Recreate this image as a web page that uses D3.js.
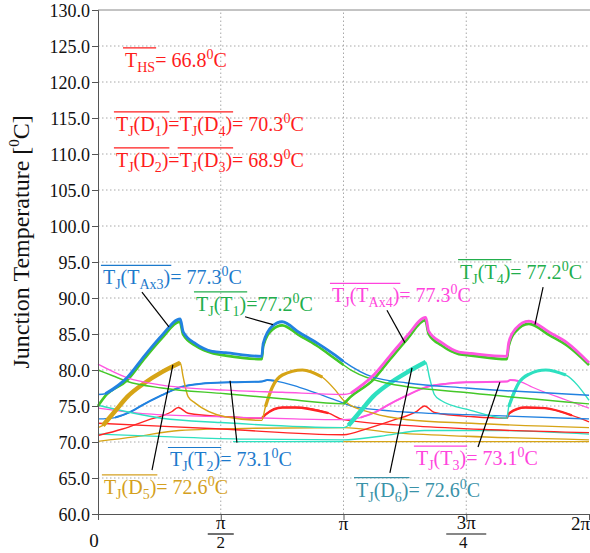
<!DOCTYPE html>
<html>
<head>
<meta charset="utf-8">
<script src="https://cdn.jsdelivr.net/npm/d3@7"></script>
<style>
  body { margin: 0; background: #fff; }
</style>
</head>
<body>
<svg id="chart" width="590" height="553"></svg>
<script>
// x values are in units of pi (0..2), y values in deg C
const yTicks = [60, 65, 70, 75, 80, 85, 90, 95, 100, 105, 110, 115, 120, 125, 130];
const xTicks = [0, 0.5, 1, 1.5, 2];
const xTickNum = ["0", "π", "π", "3π", "2π"];
const xTickDen = [null, "2", null, "4", null];

const t1 = [[0,75.0],[0.03,76.4],[0.12,78.6],[0.19,81.6],[0.26,84.4],[0.333,86.7],[0.347,84.9],[0.40,83.3],[0.47,82.3],[0.52,82.0],[0.667,81.5],[0.673,83.3],[0.71,85.6],[0.75,86.2],[0.82,84.8],[0.89,83.4],[0.96,81.7],[1.0,80.7],[1.04,79.8],[1.16,78.3],[1.52,76.8],[2.0,75.3]];
const tAx3 = [[0,76.6],[0.03,76.7],[0.12,79.0],[0.19,82.0],[0.26,84.8],[0.335,87.1],[0.347,85.3],[0.40,83.6],[0.465,82.6],[0.52,82.4],[0.667,81.9],[0.673,83.7],[0.71,86.1],[0.75,86.7],[0.82,85.2],[0.89,83.8],[0.96,82.2],[1.0,81.2],[1.12,79.0],[1.26,78.2],[1.5,77.5],[2.0,76.5]];
const t4 = [[0,80.0],[0.06,79.2],[0.12,78.4],[0.26,77.5],[0.52,76.7],[0.75,76.0],[1.0,75.3],[1.03,76.3],[1.12,78.6],[1.19,81.5],[1.26,84.3],[1.333,86.9],[1.347,85.0],[1.40,83.4],[1.47,82.2],[1.52,82.0],[1.665,81.5],[1.673,83.3],[1.70,85.3],[1.755,86.4],[1.84,84.8],[1.91,83.4],[2.0,80.7]];
const tAx4 = [[0,80.8],[0.12,78.9],[0.26,77.9],[0.52,77.2],[0.75,76.9],[1.0,76.6],[1.03,76.8],[1.12,79.2],[1.19,82.0],[1.26,84.8],[1.335,87.3],[1.347,85.4],[1.40,83.8],[1.47,82.5],[1.52,82.3],[1.665,81.9],[1.673,83.8],[1.70,85.7],[1.755,86.8],[1.84,85.2],[1.91,83.8],[2.0,81.0]];
const t2 = [[0,73.2],[0.07,73.4],[0.12,74.0],[0.19,75.3],[0.26,76.5],[0.335,77.6],[0.42,78.1],[0.54,78.3],[0.667,78.4],[0.69,78.6],[0.72,78.5],[0.82,77.6],[0.89,76.8],[1.0,75.4],[1.04,74.9],[1.2,74.3],[1.5,73.8],[2.0,73.2]];
const t3 = [[0,74.7],[0.2,73.9],[0.5,73.5],[0.8,73.2],[1.0,73.1],[1.07,73.4],[1.12,74.0],[1.19,75.3],[1.26,76.5],[1.335,77.6],[1.42,78.1],[1.5,78.3],[1.665,78.4],[1.68,78.6],[1.72,78.4],[1.77,77.6],[1.91,75.8],[2.0,74.7]];
const d5 = [[0,72.0],[0.02,72.3],[0.07,74.3],[0.12,76.3],[0.19,78.2],[0.26,79.7],[0.335,81.0],[0.347,79.0],[0.367,76.3],[0.396,75.4],[0.518,73.5],[0.667,73.0],[0.682,74.9],[0.71,77.6],[0.751,79.3],[0.833,80.0],[0.914,79.0],[0.967,77.2],[1.0,75.8],[1.12,74.0],[1.26,73.1],[1.52,72.6],[2.0,72.0]];
const d6 = [[0,75.1],[0.26,73.3],[0.5,72.7],[1.0,72.0],[1.02,72.3],[1.07,74.3],[1.12,76.3],[1.19,78.2],[1.26,79.7],[1.335,81.1],[1.35,79.0],[1.37,76.6],[1.396,75.8],[1.518,74.4],[1.665,73.3],[1.673,74.9],[1.714,78.2],[1.755,79.4],[1.824,80.0],[1.906,79.3],[2.0,75.8]];
const redA = [[0,70.9],[0.1,71.8],[0.2,73.0],[0.3,74.2],[0.327,74.8],[0.367,74.0],[0.53,73.5],[0.667,73.3],[0.682,73.8],[0.751,74.8],[0.804,74.8],[0.939,74.0],[1.0,73.1],[1.3,72.2],[1.6,71.7],[2.0,71.3]];
const redB = [[0,72.6],[0.5,71.8],[1.0,71.0],[1.1,71.9],[1.2,73.0],[1.3,74.3],[1.33,75.0],[1.37,74.1],[1.53,73.5],[1.665,73.3],[1.675,74.0],[1.74,74.8],[1.82,74.7],[1.93,73.7],[2.0,72.8]];
const gold2 = [[0,70.1],[0.15,70.7],[0.33,71.6],[0.6,71.9],[1.0,72.0],[1.2,71.3],[1.5,70.8],[2.0,70.3]];
const teal2 = [[0,71.1],[0.3,70.7],[0.6,70.4],[1.0,70.3],[1.15,70.8],[1.33,71.6],[1.6,71.6],[2.0,71.1]];
const teal70 = [[0.55,70.05],[1.0,70.05]];
const gold70 = [[1.0,70.05],[2.0,70.05]];

// label texts: [text, kind, overline group]
const lblHS = [["T","n",1],["HS","sub",1],["= 66.8"],["0","sup"],["C"]];
const lblD14 = [["T","n",1],["J","sub",1],["(D","n",1],["1","sub",1],[")","n",1],["="],["T","n",2],["J","sub",2],["(D","n",2],["4","sub",2],[")","n",2],["= 70.3"],["0","sup"],["C"]];
const lblD23 = [["T","n",1],["J","sub",1],["(D","n",1],["2","sub",1],[")","n",1],["="],["T","n",2],["J","sub",2],["(D","n",2],["3","sub",2],[")","n",2],["= 68.9"],["0","sup"],["C"]];
const lblAx3 = [["T","n",1],["J","sub",1],["(T","n",1],["Ax3","sub",1],[")","n",1],["= 77.3"],["0","sup"],["C"]];
const lblT1 = [["T","n",1],["J","sub",1],["(T","n",1],["1","sub",1],[")","n",1],["=77.2"],["0","sup"],["C"]];
const lblAx4 = [["T","n",1],["J","sub",1],["(T","n",1],["Ax4","sub",1],[")","n",1],["= 77.3"],["0","sup"],["C"]];
const lblT4 = [["T","n",1],["J","sub",1],["(T","n",1],["4","sub",1],[")","n",1],["= 77.2"],["0","sup"],["C"]];
const lblT2 = [["T","n",1],["J","sub",1],["(T","n",1],["2","sub",1],[")","n",1],["= 73.1"],["0","sup"],["C"]];
const lblD5 = [["T","n",1],["J","sub",1],["(D","n",1],["5","sub",1],[")","n",1],["= 72.6"],["0","sup"],["C"]];
const lblT3 = [["T","n",1],["J","sub",1],["(T","n",1],["3","sub",1],[")","n",1],["= 73.1"],["0","sup"],["C"]];
const lblD6 = [["T","n",1],["J","sub",1],["(D","n",1],["6","sub",1],[")","n",1],["= 72.6"],["0","sup"],["C"]];

const C = {
  blue: "#2282e0", green: "#44c828", magenta: "#ff55e0", gold: "#d6a416",
  teal: "#2ee0c0", red: "#ff2424",
  tBlue: "#1c7acc", tGreen: "#22ae4c", tMag: "#ff44dd", tGold: "#d4a020", tTeal: "#3a92a8", tRed: "#ff1c1c"
};
const FONT = "'Liberation Serif', Tinos, 'Times New Roman', 'Noto Serif', 'DejaVu Serif', serif";

const width = 590, height = 553;
const margin = { top: 10, right: 1, bottom: 39, left: 98 };

const x = d3.scaleLinear().domain([0, 2]).range([margin.left, width - margin.right]);
const y = d3.scaleLinear().domain([60, 130]).range([height - margin.bottom, margin.top]);

const svg = d3.select("#chart").attr("font-family", FONT);

// grid
svg.append("g")
  .selectAll("line")
  .data(yTicks.slice(1, -1))
  .join("line")
  .attr("x1", x(0)).attr("x2", x(2))
  .attr("y1", d => y(d)).attr("y2", d => y(d))
  .attr("stroke", "#a8a8a8").attr("stroke-dasharray", "1.5,2.5");
svg.append("g")
  .selectAll("line")
  .data(xTicks.slice(1, -1))
  .join("line")
  .attr("x1", d => x(d)).attr("x2", d => x(d))
  .attr("y1", y(60)).attr("y2", y(130))
  .attr("stroke", "#a8a8a8").attr("stroke-dasharray", "1.5,2.5");

// top frame line
svg.append("line")
  .attr("x1", x(0)).attr("x2", width).attr("y1", y(130)).attr("y2", y(130))
  .attr("stroke", "#888");

// curves
const line = d3.line().x(d => x(d[0])).y(d => y(d[1])).curve(d3.curveMonotoneX);
const draw = (data, color, w) => svg.append("path").datum(data)
  .attr("d", line).attr("fill", "none").attr("stroke", color).attr("stroke-width", w)
  .attr("stroke-linejoin", "round");

draw(teal70, C.teal, 1.4);
draw(gold70, C.gold, 1.4);
draw(gold2, C.gold, 1.3);
draw(teal2, C.teal, 1.3);
draw(redB, C.red, 1.4);
draw(redA, C.red, 1.4);
draw(redA.filter(d => d[0] >= 0.66 && d[0] <= 0.95), C.red, 2.4);
draw(redB.filter(d => d[0] >= 1.66 && d[0] <= 1.95), C.red, 2.4);
draw(t3, C.magenta, 1.3);
draw(t2, C.blue, 1.3);
draw(t3.filter(d => d[0] >= 1.07 && d[0] <= 1.72), C.magenta, 2);
draw(t2.filter(d => d[0] >= 0.07 && d[0] <= 0.72), C.blue, 2);
draw(d6, C.teal, 1.4);
draw(d5, C.gold, 1.4);
draw(d6.filter(d => d[0] >= 1.02 && d[0] <= 1.335), C.teal, 4.5);
draw(d5.filter(d => d[0] >= 0.02 && d[0] <= 0.335), C.gold, 4.5);
draw(d6.filter(d => d[0] >= 1.673 && d[0] <= 1.906), C.teal, 3.2);
draw(d5.filter(d => d[0] >= 0.682 && d[0] <= 0.914), C.gold, 3.2);
draw(t4, C.green, 1.4);
draw(t1, C.green, 1.4);
draw(t4.filter(d => d[0] >= 1.0), C.green, 2.6);
draw(t1.filter(d => d[0] <= 1.0), C.green, 2.6);
draw(tAx4, C.magenta, 1.4);
draw(tAx3, C.blue, 1.4);
draw(tAx4.filter(d => d[0] >= 1.03), C.magenta, 2.8);
draw(tAx3.filter(d => d[0] >= 0.03 && d[0] <= 1.0), C.blue, 2.8);

// axes
const yAxis = d3.axisLeft(y).tickValues(yTicks).tickFormat(d3.format(".1f")).tickSizeOuter(0).tickSize(6).tickPadding(2);
svg.append("g")
  .attr("transform", `translate(${x(0)},0)`)
  .call(yAxis)
  .attr("font-family", FONT)
  .call(g => g.select(".domain").attr("stroke", "#555"))
  .call(g => g.selectAll(".tick line").attr("stroke", "#555"))
  .call(g => g.selectAll("text").attr("fill", "#111").attr("font-size", 18).attr("dy", "0.34em"));

const xAxis = d3.axisBottom(x).tickValues(xTicks).tickFormat("").tickSizeOuter(0).tickSize(6);
svg.append("g")
  .attr("transform", `translate(0,${y(60)})`)
  .call(xAxis)
  .call(g => g.select(".domain").attr("stroke", "#555"))
  .call(g => g.selectAll(".tick line").attr("stroke", "#555"));

// x tick labels (fractions)
const xl = svg.append("g").attr("fill", "#111").attr("font-size", 19);
xTicks.forEach((t, i) => {
  const cx = x(t);
  if (xTickDen[i]) {
    xl.append("text").attr("x", cx).attr("y", 529).attr("text-anchor", "middle").text(xTickNum[i]);
    const half = xTickNum[i].length > 1 ? 20 : 13;
    xl.append("line").attr("x1", cx - half).attr("x2", cx + half).attr("y1", 534).attr("y2", 534)
      .attr("stroke", "#111").attr("stroke-width", 1.2);
    xl.append("text").attr("x", cx - (xTickNum[i].length > 1 ? 3 : 0)).attr("y", 548).attr("font-size", 17)
      .attr("text-anchor", "middle").text(xTickDen[i]);
  } else if (t === 0) {
    xl.append("text").attr("x", cx - 4).attr("y", 547).attr("text-anchor", "middle").text(xTickNum[i]);
  } else if (t === 2) {
    xl.append("text").attr("x", width).attr("y", 530).attr("text-anchor", "end").text(xTickNum[i]);
  } else {
    xl.append("text").attr("x", cx).attr("y", 530).attr("text-anchor", "middle").text(xTickNum[i]);
  }
});

// y axis title
const yt = svg.append("text")
  .attr("transform", `translate(29,${y(97.8)}) rotate(-90)`)
  .attr("text-anchor", "middle")
  .attr("fill", "#111")
  .attr("font-size", 24);
yt.append("tspan").text("Junction Temperature [");
yt.append("tspan").attr("dy", -10).attr("font-size", 15).text("0");
yt.append("tspan").attr("dy", 10).text("C]");

// rich label with sub/superscripts and overlines
function rich(px, py, segs, color, size) {
  const t = svg.append("text").attr("x", px).attr("y", py).attr("fill", color).attr("font-size", size);
  let off = 0;
  segs.forEach(s => {
    const kind = s[1] || "n";
    const target = kind === "sub" ? 5 : kind === "sup" ? -8 : 0;
    t.append("tspan").attr("dy", target - off)
      .attr("font-size", kind === "n" ? size : Math.round(size * 0.68))
      .text(s[0]);
    off = target;
  });
  const node = t.node();
  const groups = {};
  let idx = 0;
  segs.forEach(s => {
    const n = s[0].length;
    if (s[2]) {
      if (!groups[s[2]]) groups[s[2]] = { a: idx, b: idx + n - 1 };
      groups[s[2]].b = idx + n - 1;
    }
    idx += n;
  });
  Object.values(groups).forEach(g => {
    const x0 = node.getStartPositionOfChar(g.a).x;
    const x1 = node.getEndPositionOfChar(g.b).x;
    svg.append("line").attr("x1", x0 - 2).attr("x2", x1 + 1)
      .attr("y1", py - 19).attr("y2", py - 19)
      .attr("stroke", color).attr("stroke-width", 1.2);
  });
}

// leader lines, [x,y] in data units
const leader = (a, b) => svg.append("line")
  .attr("x1", x(a[0])).attr("y1", y(a[1])).attr("x2", x(b[0])).attr("y2", y(b[1]))
  .attr("stroke", "#000").attr("stroke-width", 1.2);
leader([0.179, 90.8], [0.289, 86.0]);
leader([0.599, 87.4], [0.713, 86.3]);
leader([1.177, 88.3], [1.25, 83.8]);
leader([1.813, 91.5], [1.78, 86.3]);
leader([0.566, 69.9], [0.538, 78.5]);
leader([0.22, 66.1], [0.305, 80.7]);
leader([1.548, 69.3], [1.637, 78.3]);
leader([1.189, 65.7], [1.279, 80.3]);

rich(x(0.110), y(122.1), lblHS, C.tRed, 20);
rich(x(0.073), y(113.2), lblD14, C.tRed, 20);
rich(x(0.073), y(108.2), lblD23, C.tRed, 20);
rich(x(0.020), y(91.9), lblAx3, C.tBlue, 20);
rich(x(0.399), y(88.2), lblT1, C.tGreen, 20);
rich(x(0.953), y(89.4), lblAx4, C.tMag, 20);
rich(x(1.475), y(92.7), lblT4, C.tGreen, 20);
rich(x(0.293), y(66.6), lblT2, C.tBlue, 20);
rich(x(0.024), y(62.8), lblD5, C.tGold, 20);
rich(x(1.295), y(66.8), lblT3, C.tMag, 20);
rich(x(1.051), y(62.4), lblD6, C.tTeal, 20);
</script>
</body>
</html>
